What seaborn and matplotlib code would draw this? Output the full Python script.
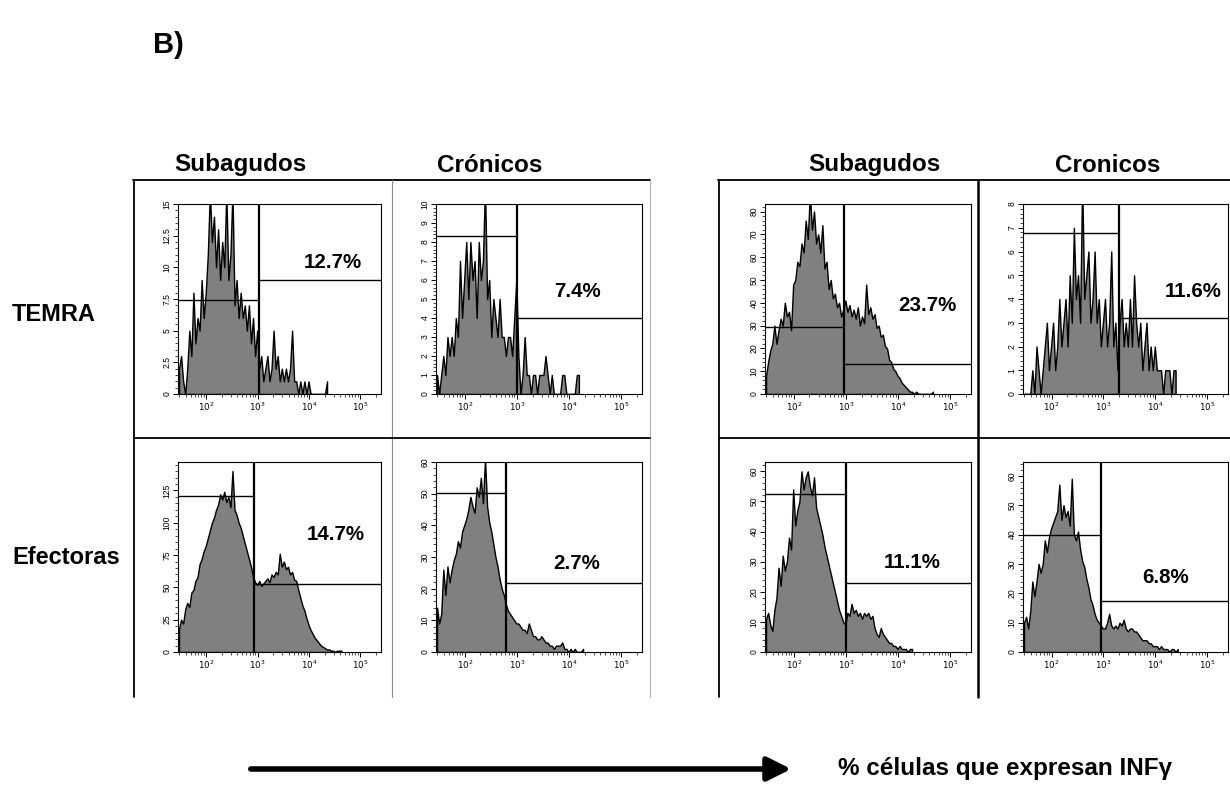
import numpy as np
import pandas as pd
import matplotlib
matplotlib.use("Agg")
import matplotlib.pyplot as plt
import seaborn as sns
from matplotlib.lines import Line2D
from matplotlib.patches import FancyArrowPatch
from matplotlib.ticker import FixedLocator, AutoMinorLocator, FuncFormatter

sns.set_theme(style="ticks")
plt.rcParams['font.family'] = ['Liberation Sans', 'DejaVu Sans']
plt.rcParams['text.color'] = 'black'
plt.rcParams['xtick.color'] = 'black'
plt.rcParams['ytick.color'] = 'black'

# ---------------- data ----------------
col_headers = ["Subagudos", "Crónicos", "Subagudos", "Cronicos"]
row_labels = ["TEMRA", "Efectoras"]
panel_title = "B)"
axis_caption = "% células que expresan INFγ"

BIN_START = 1.45     # log10 of first bin edge
BIN_WIDTH = 0.04     # log10 units

temra_subagudos_a = [2,3,1,0,2,5,3,8,4,6, 5,9,6,8,11,16,12,14,10,13, 9,12,10,16,9,11,16,7,9,6,
                     8,6,7,5,7,4,6,3,5,2, 3,1,2,3,1,2,5,2,3,1, 2,1,2,1,2,5,1,1,0,1,
                     0,1,0,1,0,0,0,0,0,0, 0,0,1]
temra_cronicos_a = [1,0,1,2,1,3,2,3,2,4, 3,7,4,6,8,5,8,6,7,4, 8,6,7,11,5,6,3,5,4,3,
                    5,3,3,2,3,3,2,4,6,2, 0,1,3,1,1,0,1,1,0,1, 1,1,2,1,0,1,0,0,0,0,
                    1,1,0,0,0,0,0,1,1]
temra_subagudos_b = [8,14,19,22,30,22,28,33,30,40, 34,36,28,48,50,58,56,66,62,76, 68,88,72,80,66,70,62,74,55,58,
                     46,50,42,44,38,40,34,37,41,36, 39,34,37,33,38,30,34,31,48,35, 38,33,35,29,30,25,26,21,20,15,
                     14,11,10,8,7,5,4,3,2,1, 1,0,1,0,0,0,0,0,0,0, 1]
temra_cronicos_b = [0,0,0,0,1,0,2,1,0,1, 2,3,1,2,3,1,2,4,2,3, 4,2,5,3,7,4,5,3,9,4,
                    5,6,3,4,6,3,4,2,3,4, 2,3,6,2,3,1,3,4,2,3, 2,4,2,5,3,2,3,1,2,3,
                    1,2,1,2,1,1,1,0,1,1, 1,0,1,1]
efect_subagudos_a = [18,25,22,33,38,35,46,48,55,58, 68,72,78,82,88,94,100,104,110,114,
                     122,118,124,116,120,112,140,110,106,100, 96,90,84,78,72,66,58,54,52,55,
                     51,53,55,57,54,60,58,62,60,76, 66,70,64,66,60,62,56,55,48,42,
                     36,32,26,21,17,14,11,9,7,5, 4,3,2,2,1,1,0,1,1,1]
efect_cronicos_a = [14,9,12,26,18,27,22,26,29,31, 35,33,38,40,42,45,49,46,44,52,
                    49,55,47,61,46,41,38,34,30,27, 23,20,18,15,13,12,11,10,9,9,
                    8,7,7,6,9,7,5,5,4,4, 5,4,3,3,2,2,1,2,2,2, 3,1,1,0,1,0,1,0,0,0, 1]
efect_subagudos_b = [11,13,9,7,14,18,28,22,32,27, 30,38,34,54,42,47,50,60,54,58,
                     60,55,52,58,48,45,42,39,35,32, 29,26,23,20,17,14,12,10,9,13,
                     12,16,13,14,12,13,11,13,12,13, 11,12,8,6,5,8,6,5,4,3,
                     3,2,2,1,2,1,1,1,0,1, 1]
efect_cronicos_b = [10,12,8,14,24,19,24,30,27,30, 38,34,39,42,44,46,48,57,45,50,
                    46,48,43,59,40,38,41,35,31,29, 25,22,18,16,13,11,10,9,8,8,
                    10,13,9,8,9,8,10,9,11,8, 7,8,8,7,7,6,5,4,4,4,
                    3,3,2,2,2,1,2,1,1,1, 0,1,1,0,1]

panel_counts = [temra_subagudos_a, temra_cronicos_a, temra_subagudos_b, temra_cronicos_b,
                efect_subagudos_a, efect_cronicos_a, efect_subagudos_b, efect_cronicos_b]
y_max = [15, 10, 83.3, 8, 147, 60, 63.1, 64.7]
y_major_step = [2.5, 1, 10, 1, 25, 10, 10, 10]
gate_log = [3.02, 3.0, 2.97, 3.30, 2.92, 2.80, 3.0, 2.96]
gate_left_level = [7.4, 8.3, 29.4, 6.8, 120.9, 50.2, 52.6, 40.0]
gate_right_level = [9.0, 4.0, 13.1, 3.2, 52.8, 21.8, 23.0, 17.4]
pct_labels = ["12.7%", "7.4%", "23.7%", "11.6%", "14.7%", "2.7%", "11.1%", "6.8%"]
pct_pos = [(4.47, 10.4), (4.17, 5.4), (4.57, 38.8), (4.72, 4.3),
           (4.52, 90.7), (4.14, 27.9), (4.27, 29.6), (4.19, 25.5)]
decades = [2, 3, 4, 5]

# ---------------- layout ----------------
W, H = 1230, 787
fig = plt.figure(figsize=(W / 100, H / 100), dpi=100)
fig.patch.set_facecolor("white")

def fx(px):
    return px / W

def fy(py):
    return 1 - py / H

col_left = [178, 436, 765, 1023]
col_width = [203, 206, 206, 205]
row_top = [204, 462]
row_height = 190
XLIM = (1.45, 5.4)

minor_x = [np.log10(k * 10.0 ** n) for n in range(1, 6) for k in range(2, 10)]
minor_x = [v for v in minor_x if XLIM[0] < v < XLIM[1]]

for i in range(8):
    r, c = divmod(i, 4)
    ax = fig.add_axes([fx(col_left[c]), fy(row_top[r] + row_height),
                       fx(col_width[c]), row_height / H])
    counts = np.array(panel_counts[i], dtype=float)
    n = len(counts)
    centers = BIN_START + BIN_WIDTH * (np.arange(n) + 0.5)
    df = pd.DataFrame({"x": centers, "w": counts})
    sns.histplot(data=df, x="x", weights="w", binwidth=BIN_WIDTH,
                 binrange=(BIN_START, BIN_START + BIN_WIDTH * n),
                 element="poly", fill=True,
                 color="#808080", alpha=1.0, edgecolor="black", linewidth=1.0, ax=ax)
    ax.set_xlim(*XLIM)
    ax.set_ylim(0, y_max[i])
    ax.set_xlabel("")
    ax.set_ylabel("")
    g = gate_log[i]
    ax.plot([g, g], [0, y_max[i]], color="black", lw=1.6, zorder=5)
    ax.plot([XLIM[0], g], [gate_left_level[i]] * 2, color="black", lw=1.0, zorder=5)
    ax.plot([g, XLIM[1]], [gate_right_level[i]] * 2, color="black", lw=1.0, zorder=5)
    ax.text(pct_pos[i][0], pct_pos[i][1], pct_labels[i], ha="center", va="center",
            fontsize=14.8, fontweight="bold", color="black", zorder=6)
    # x axis ticks
    ax.xaxis.set_major_locator(FixedLocator(decades))
    ax.xaxis.set_minor_locator(FixedLocator(minor_x))
    ax.set_xticklabels([r"$10^{%d}$" % d for d in decades])
    # y axis ticks
    step = y_major_step[i]
    yt = np.arange(0, y_max[i] + 1e-6, step)
    ax.yaxis.set_major_locator(FixedLocator(yt))
    ax.yaxis.set_minor_locator(AutoMinorLocator(5))
    ax.yaxis.set_major_formatter(FuncFormatter(lambda v, p: "%g" % v))
    ax.tick_params(axis="both", which="major", direction="out", length=3.5, width=0.7,
                   labelsize=6.2, pad=1, colors="black")
    ax.tick_params(axis="both", which="minor", direction="out", length=2, width=0.5)
    ax.tick_params(axis="y", labelrotation=90)
    for lbl in ax.get_yticklabels():
        lbl.set_verticalalignment("center")
    for sp in ax.spines.values():
        sp.set_visible(True)
        sp.set_color("black")
        sp.set_linewidth(0.8)
    ax.set_facecolor("white")
    ax.grid(False)

# ---------------- frame lines ----------------
def fline(x0, y0, x1, y1, color="black", lw=1.3):
    fig.add_artist(Line2D([fx(x0), fx(x1)], [fy(y0), fy(y1)], color=color, lw=lw,
                          transform=fig.transFigure))

fline(133, 180, 650, 180)
fline(134, 180, 134, 697)
fline(392, 180, 392, 697, color="#8a8a8a", lw=0.8)
fline(650, 180, 650, 697, color="#b0b0b0", lw=0.8)
fline(134, 438, 650, 438)
fline(718, 180, 1230, 180)
fline(719, 180, 719, 697)
fline(978, 180, 978, 697, lw=1.8)
fline(719, 438, 1230, 438)

# ---------------- texts ----------------
fig.text(fx(153), fy(45), panel_title, fontsize=21, fontweight="bold", ha="left", va="center")
header_x = [240, 490, 874, 1108]
for hx, t in zip(header_x, col_headers):
    fig.text(fx(hx), fy(165), t, fontsize=17.5, fontweight="bold", ha="center", va="center")
fig.text(fx(12), fy(315), row_labels[0], fontsize=17, fontweight="bold", ha="left", va="center")
fig.text(fx(12), fy(558), row_labels[1], fontsize=17, fontweight="bold", ha="left", va="center")

arrow = FancyArrowPatch((fx(248), fy(769)), (fx(794), fy(769)), transform=fig.transFigure,
                        arrowstyle="-|>,head_length=0.9,head_width=0.45", mutation_scale=16,
                        lw=4, color="black")
fig.add_artist(arrow)
fig.text(fx(838), fy(769), axis_caption, fontsize=17.5, fontweight="bold", ha="left", va="center")

fig.savefig("out.png", dpi=100, facecolor="white")
